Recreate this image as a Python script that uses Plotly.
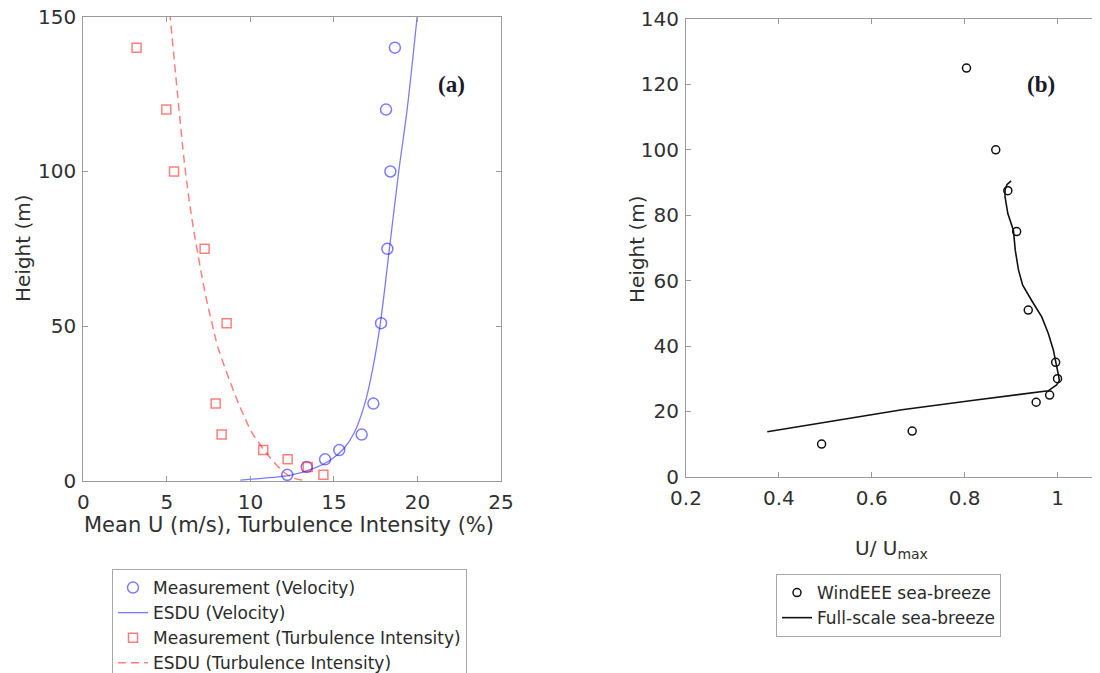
import plotly.graph_objects as go

# ---------------- Panel (a) data ----------------
vel_height = [140, 120, 100, 75, 51, 25, 15, 10, 7, 4.5, 2]
vel_meas = [18.65, 18.12, 18.38, 18.2, 17.82, 17.36, 16.66, 15.32, 14.47, 13.37, 12.21]
ti_height = [140, 120, 100, 75, 51, 25, 15, 10, 7, 4.5, 2]
ti_meas = [3.19, 4.97, 5.43, 7.26, 8.58, 7.92, 8.28, 10.77, 12.23, 13.43, 14.37]

esdu_vel_height = [0.3, 0.9, 1.9, 4.1, 6.8, 10.5, 15.4, 25, 37, 51, 75, 100, 120, 150]
esdu_vel = [9.4, 10.8, 12.4, 13.8, 14.8, 15.6, 16.2, 16.85, 17.35, 17.78, 18.32, 18.88, 19.38, 19.98]
esdu_ti_height = [0.3, 0.9, 3.0, 6.8, 10.3, 15.4, 20, 28.3, 43.4, 51, 58.4, 73.5, 86.5, 101.5, 125, 150]
esdu_ti = [13.1, 12.6, 11.97, 11.3, 10.78, 10.12, 9.7, 9.05, 8.05, 7.7, 7.38, 6.85, 6.45, 6.08, 5.64, 5.2]

# ---------------- Panel (b) data ----------------
wind_height = [125, 100, 87.5, 75, 51, 35, 30, 25, 22.8, 14, 10]
wind_u = [0.804, 0.867, 0.893, 0.912, 0.937, 0.996, 1.0, 0.983, 0.954, 0.687, 0.492]
full_height = [13.8, 17.2, 20.5, 23.4, 26.3, 28.1, 29.4, 31.1, 34.7, 38.8, 43.9, 48.9,
               54.0, 58.6, 63.2, 69.3, 75.4, 80.5, 85.6, 87.7, 89.3, 90.5]
full_u = [0.375, 0.522, 0.665, 0.82, 0.980, 0.998, 1.004, 1.002, 0.997, 0.991, 0.980, 0.966,
          0.944, 0.925, 0.916, 0.909, 0.905, 0.893, 0.887, 0.887, 0.891, 0.900]

a_xticks = [0, 5, 10, 15, 20, 25]
a_yticks = [0, 50, 100, 150]
b_xticks = [0.2, 0.4, 0.6, 0.8, 1]
b_xticktext = ["0.2", "0.4", "0.6", "0.8", "1"]
b_yticks = [0, 20, 40, 60, 80, 100, 120, 140]

BLUE = "rgba(0,0,255,0.52)"
RED = "rgba(255,0,0,0.5)"
FONT = "DejaVu Sans"
AXC = "#9a9a9a"
TXT = "#303030"

W, H = 1100, 673
OFF = 8  # the page body margin shifts the figure by this much


def px(x):
    return (x - OFF) / W


def py(y):
    return 1 - (y - OFF) / H


fig = go.Figure()
fig.add_trace(go.Scatter(x=vel_meas, y=vel_height, mode="markers", name="Measurement (Velocity)",
                         marker=dict(symbol="circle-open", size=11, color=BLUE, line=dict(width=1.5)),
                         xaxis="x", yaxis="y", legend="legend"))
fig.add_trace(go.Scatter(x=esdu_vel, y=esdu_vel_height, mode="lines", name="ESDU (Velocity)",
                         line=dict(color=BLUE, width=1.3, shape="spline", smoothing=1.0),
                         xaxis="x", yaxis="y", legend="legend"))
fig.add_trace(go.Scatter(x=ti_meas, y=ti_height, mode="markers", name="Measurement (Turbulence Intensity)",
                         marker=dict(symbol="square-open", size=9, color=RED, line=dict(width=1.5)),
                         xaxis="x", yaxis="y", legend="legend"))
fig.add_trace(go.Scatter(x=esdu_ti, y=esdu_ti_height, mode="lines", name="ESDU (Turbulence Intensity)",
                         line=dict(color=RED, width=1.5, dash="8px,5px", shape="spline", smoothing=1.0),
                         xaxis="x", yaxis="y", legend="legend"))

fig.add_trace(go.Scatter(x=wind_u, y=wind_height, mode="markers", name="WindEEE sea-breeze",
                         marker=dict(symbol="circle-open", size=8, color="#111111", line=dict(width=1.5)),
                         xaxis="x2", yaxis="y2", legend="legend2"))
fig.add_trace(go.Scatter(x=full_u, y=full_height, mode="lines", name="Full-scale sea-breeze",
                         line=dict(color="#111111", width=1.6),
                         xaxis="x2", yaxis="y2", legend="legend2"))

axis_common = dict(showgrid=False, zeroline=False, showline=True, linecolor=AXC, linewidth=1.2,
                   ticks="inside", ticklen=5, tickwidth=1, tickcolor=AXC, automargin=False,
                   mirror="ticks", ticklabeloverflow="allow",
                   tickfont=dict(family=FONT, size=20, color=TXT))

B_RIGHT = 1104  # right edge of panel (b), screen pixels (just past the window edge)
fig.update_layout(
    width=W, height=H,
    margin=dict(l=0, r=0, t=0, b=0, autoexpand=False),
    paper_bgcolor="white", plot_bgcolor="white",
    showlegend=True,
    xaxis=dict(domain=[px(83.3), px(501)], range=[0, 25], tickvals=a_xticks, anchor="y",
               ticklabelstandoff=3, **axis_common),
    yaxis=dict(domain=[py(481), py(16.7)], range=[0, 150], tickvals=a_yticks, anchor="x",
               ticklabelstandoff=2, **axis_common),
    xaxis2=dict(domain=[px(686), px(B_RIGHT)], range=[0.2, 0.2 + (B_RIGHT - 686) / 464.4],
                tickvals=b_xticks, ticktext=b_xticktext, anchor="y2", ticklabelstandoff=3, **axis_common),
    yaxis2=dict(domain=[py(476.8), py(19)], range=[0, 140], tickvals=b_yticks, anchor="x2",
                ticklabelstandoff=2, **axis_common),
    legend=dict(x=px(112), y=py(569), xanchor="left", yanchor="top",
                bordercolor="#a8a8a8", borderwidth=1, bgcolor="white",
                font=dict(family=FONT, size=17, color="#2a2a2a"), tracegroupgap=0, itemwidth=30),
    legend2=dict(x=px(776), y=py(574), xanchor="left", yanchor="top",
                 bordercolor="#a8a8a8", borderwidth=1, bgcolor="white",
                 font=dict(family=FONT, size=17, color="#2a2a2a"), tracegroupgap=0, itemwidth=30),
)

ann = [
    dict(text="Height (m)", x=px(23), y=py(248), textangle=-90, font=dict(size=20)),
    dict(text="Mean U (m/s), Turbulence Intensity (%)", x=px(289), y=py(525), font=dict(size=21)),
    dict(text="Height (m)", x=px(637), y=py(249), textangle=-90, font=dict(size=20)),
    dict(text="U/ U<sub>max</sub>", x=px(891), y=py(549), font=dict(size=20)),
]
for a in ann:
    a["font"].update(family=FONT, color=TXT)
    fig.add_annotation(xref="paper", yref="paper", showarrow=False, xanchor="center", yanchor="middle", **a)

for lbl, xx in (("(a)", 451), ("(b)", 1041)):
    fig.add_annotation(xref="paper", yref="paper", x=px(xx), y=py(84), text="<b>" + lbl + "</b>",
                       showarrow=False, xanchor="center", yanchor="middle",
                       font=dict(family="Liberation Serif", size=23, color="#1a1a2a"))

fig.write_html("out.html")
